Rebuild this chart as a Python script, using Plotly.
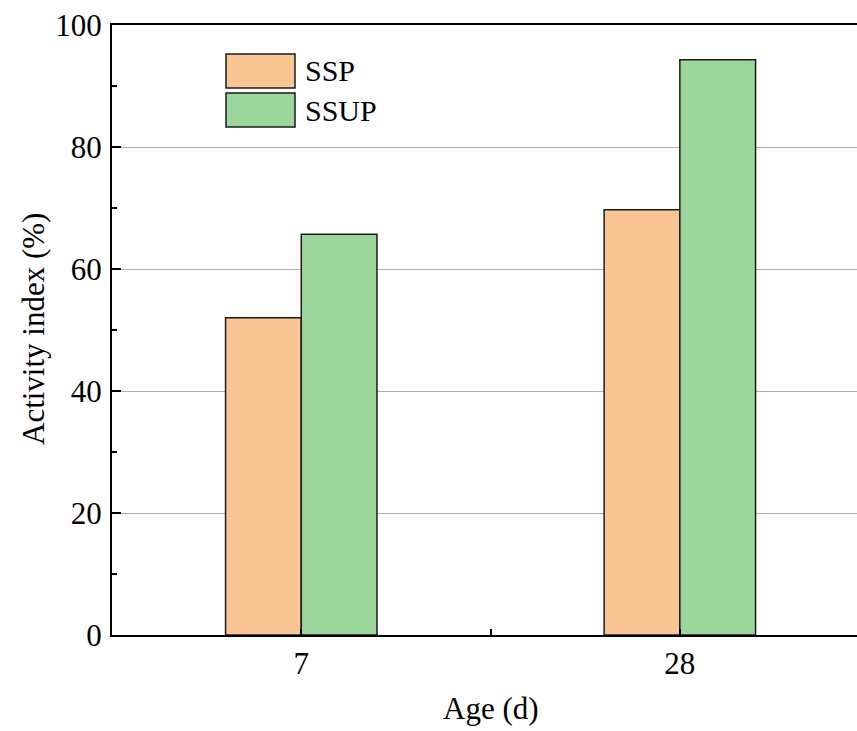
import plotly.graph_objects as go

categories = ["7", "28"]
ssp = [52.0, 69.7]
ssup = [65.7, 94.3]
series_names = ["SSP", "SSUP"]
y_ticks = [0, 20, 40, 60, 80, 100]

colors = ["#F9C594", "#9DD69B"]
edge = "#1a1a1a"
FONT = "Liberation Serif"
FS = 31

W, H = 857, 731
L, R, T, B = 112, 0, 25, 96
pw, ph = W - L - R, H - T - B

x_pos = list(range(len(categories)))

fig = go.Figure()
for name, vals, c in zip(series_names, [ssp, ssup], colors):
    fig.add_trace(go.Bar(
        x=x_pos, y=vals, name=name, width=0.2,
        marker=dict(color=c, line=dict(color=edge, width=1.5)),
        showlegend=False,
    ))

def px2paper(x, y):
    return (x - L) / pw, (H - B - y) / ph

# custom legend
legend_boxes = [(226, 54, 295, 88), (226, 93, 295, 127)]
for (x0, y0, x1, y1), name, c in zip(legend_boxes, series_names, colors):
    a0, b0 = px2paper(x0, y1)
    a1, b1 = px2paper(x1, y0)
    fig.add_shape(type="rect", xref="paper", yref="paper", x0=a0, x1=a1, y0=b0, y1=b1,
                  fillcolor=c, line=dict(color=edge, width=1.5))
    tx, ty = px2paper(303, (y0 + y1) / 2)
    fig.add_annotation(xref="paper", yref="paper", x=tx, y=ty, text=name, showarrow=False,
                       xanchor="left", yanchor="middle",
                       font=dict(family=FONT, size=30, color="black"))

# axis titles
ax, ay = px2paper(491, 708)
fig.add_annotation(xref="paper", yref="paper", x=ax, y=ay, text="Age (d)", showarrow=False,
                   xanchor="center", yanchor="middle", font=dict(family=FONT, size=FS, color="black"))
bx, by = px2paper(33, 329)
fig.add_annotation(xref="paper", yref="paper", x=bx, y=by, text="Activity index (%)", showarrow=False,
                   textangle=-90, xanchor="center", yanchor="middle",
                   font=dict(family=FONT, size=FS, color="black"))

fig.update_layout(
    width=W, height=H,
    margin=dict(l=L, r=R, t=T, b=B, pad=0),
    paper_bgcolor="white", plot_bgcolor="white",
    barmode="group", bargap=0.6, bargroupgap=0,
    font=dict(family=FONT, size=FS, color="black"),
    showlegend=False,
)
fig.update_xaxes(
    range=[-0.5, 1.468], tickvals=x_pos, ticktext=categories,
    showline=True, linecolor="black", linewidth=2, mirror=True,
    ticks="inside", ticklen=6, tickwidth=1.5, tickcolor="black",
    showgrid=False, zeroline=False,
    minor=dict(tick0=0.5, dtick=1, ticks="inside", ticklen=6, tickwidth=1.5, tickcolor="black"),
    tickfont=dict(family=FONT, size=FS), ticklabelstandoff=0,
)
fig.update_yaxes(
    range=[0, 100], tickvals=y_ticks,
    showline=True, linecolor="black", linewidth=2, mirror=False,
    ticks="inside", ticklen=9, tickwidth=2, tickcolor="black",
    showgrid=True, gridcolor="#b0b0b0", gridwidth=1.2, zeroline=False,
    minor=dict(dtick=10, ticks="inside", ticklen=5, tickwidth=2, tickcolor="black", showgrid=False),
    tickfont=dict(family=FONT, size=FS), ticklabelstandoff=2,
)

fig.write_html("out.html")
